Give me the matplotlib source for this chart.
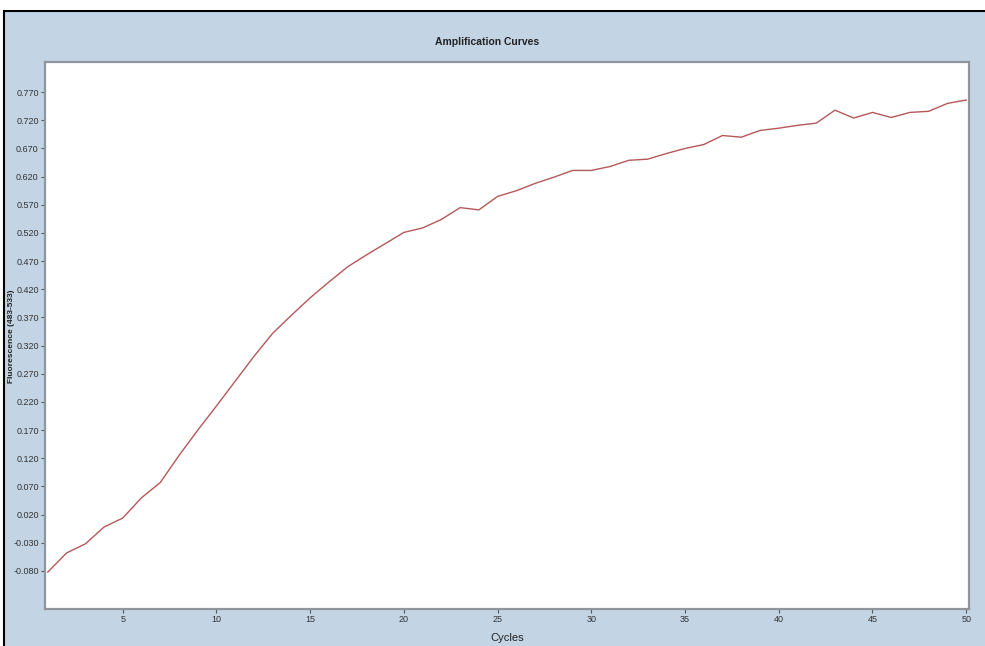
import numpy as np
import matplotlib
matplotlib.use('Agg')
import matplotlib.pyplot as plt
from matplotlib.patches import Rectangle

# Fluorescence reading per cycle
cycles = list(range(1, 51))
fluorescence = [
    -0.082, -0.048, -0.032, -0.002, 0.014, 0.050, 0.077, 0.125, 0.170, 0.213,
    0.257, 0.301, 0.342, 0.374, 0.405, 0.433, 0.460, 0.481, 0.501, 0.521,
    0.529, 0.544, 0.565, 0.561, 0.585, 0.595, 0.608, 0.619, 0.631, 0.631,
    0.638, 0.649, 0.651, 0.661, 0.670, 0.677, 0.693, 0.690, 0.702, 0.706,
    0.711, 0.715, 0.738, 0.724, 0.734, 0.725, 0.734, 0.736, 0.750, 0.756,
]
ytick_vals = [0.770, 0.720, 0.670, 0.620, 0.570, 0.520, 0.470, 0.420, 0.370,
              0.320, 0.270, 0.220, 0.170, 0.120, 0.070, 0.020, -0.030, -0.080]
xtick_vals = [5, 10, 15, 20, 25, 30, 35, 40, 45, 50]

W, H = 985, 646
fig = plt.figure(figsize=(W / 100, H / 100), dpi=100)
fig.patch.set_facecolor('white')

# blue panel with a black frame on the left and top (runs off right and bottom)
panel = Rectangle((4 / W, -0.05), 1.0, 1.05 - 11 / H, transform=fig.transFigure,
                  facecolor='#c3d4e5', edgecolor='black', linewidth=1.5, zorder=-10)
fig.patches.append(panel)

ax = fig.add_axes([45 / W, 1 - 609 / H, (969 - 45) / W, (609 - 62) / H])
ax.set_zorder(5)
ax.set_facecolor('white')
ax.plot(cycles, fluorescence, color='#b45858', linewidth=1.0)

ax.set_xlim(0.85, 50.15)
ax.set_ylim(-0.1475, 0.8235)
ax.set_xticks(xtick_vals)
ax.set_yticks(ytick_vals)
ax.set_yticklabels(['%.3f' % v for v in ytick_vals])

font = ['Liberation Sans Narrow', 'Liberation Sans', 'DejaVu Sans']
for lab in ax.get_xticklabels() + ax.get_yticklabels():
    lab.set_family(font)
    lab.set_fontsize(6.5)
    lab.set_color('#333333')
ax.tick_params(axis='both', direction='out', length=3, width=0.8,
               color='#555555', pad=1.5)

for side in ax.spines.values():
    side.set_color('#8e959c')
    side.set_linewidth(1.6)

fig.text(487 / W, 1 - 42 / H, 'Amplification Curves', ha='center', va='center',
         fontsize=7.5, fontweight='bold', family=font, color='#222222')
fig.text(507 / W, 1 - 638 / H, 'Cycles', ha='center', va='center',
         fontsize=8, family=font, color='#222222')
fig.text(12 / W, 1 - 336 / H, 'Fluorescence (483-533)', ha='center', va='center',
         rotation=90, fontsize=6, fontweight='bold', family=font, color='#222222')

fig.savefig('out.png', dpi=100)
